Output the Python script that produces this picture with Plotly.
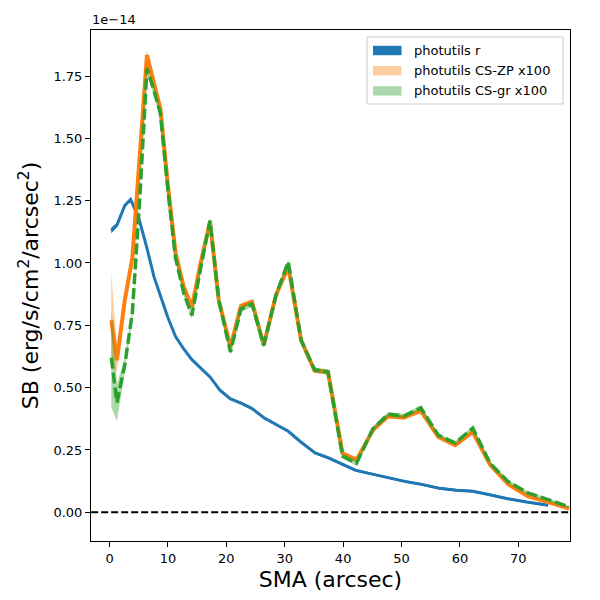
import plotly.graph_objects as go

# ---- data (surface brightness in units of 1e-14 erg/s/cm^2/arcsec^2) ----
sma_r = [0.3, 1.26, 2.6, 3.6, 5.0, 6.4, 7.6, 8.7, 10.0, 11.3, 12.7, 14.1, 15.6, 17.2,
         18.9, 20.7, 22.6, 24.4, 26.5, 28.7, 30.6, 32.7, 35.2, 37.5, 40.0, 42.2, 45.2,
         47.7, 50.5, 53.4, 56.5, 59.4, 62.2, 64.9, 68.0, 71.4, 75.1]
sb_r = [1.13, 1.152, 1.23, 1.255, 1.18, 1.06, 0.945, 0.865, 0.78, 0.705, 0.655, 0.612,
        0.58, 0.543, 0.49, 0.455, 0.437, 0.416, 0.378, 0.35, 0.325, 0.283, 0.238, 0.218,
        0.19, 0.168, 0.152, 0.139, 0.124, 0.112, 0.096, 0.088, 0.084, 0.071, 0.055,
        0.041, 0.028]
err_r = [0.012, 0.008] + [0.005] * 35

sma_cs = [0.3, 1.26, 2.6, 3.9, 5.2, 6.4, 7.5, 8.7, 10.0, 11.3, 12.7, 14.1, 15.6, 17.2,
          18.7, 20.7, 22.5, 24.4, 26.4, 28.5, 30.6, 32.8, 35.1, 37.4, 39.9, 42.3, 45.1,
          47.7, 50.4, 53.3, 56.3, 59.2, 62.2, 65.2, 68.3, 71.7, 75.1, 78.7]
sb_zp = [0.77, 0.61, 0.85, 1.02, 1.44, 1.834, 1.73, 1.62, 1.31, 1.04, 0.905, 0.824,
         1.0, 1.165, 0.851, 0.663, 0.827, 0.844, 0.67, 0.871, 0.985, 0.69, 0.568, 0.563,
         0.236, 0.21, 0.33, 0.385, 0.38, 0.407, 0.302, 0.269, 0.322, 0.189, 0.112,
         0.064, 0.041, 0.015]
err_zp = [0.19, 0.045, 0.03, 0.02, 0.02, 0.022, 0.02, 0.02, 0.016, 0.015, 0.014, 0.014,
          0.013, 0.013, 0.012, 0.012, 0.012, 0.012, 0.011, 0.011, 0.011, 0.01, 0.01,
          0.01, 0.01, 0.01, 0.009, 0.009, 0.009, 0.009, 0.008, 0.008, 0.008, 0.007,
          0.007, 0.006, 0.006, 0.005]
sb_gr = [0.62, 0.44, 0.59, 0.80, 1.27, 1.78, 1.70, 1.60, 1.29, 1.02, 0.88, 0.79,
         0.98, 1.17, 0.851, 0.643, 0.815, 0.835, 0.67, 0.871, 1.005, 0.69, 0.572, 0.563,
         0.225, 0.197, 0.335, 0.393, 0.386, 0.419, 0.309, 0.278, 0.338, 0.195, 0.122,
         0.077, 0.051, 0.021]
err_gr = [0.2, 0.075, 0.03, 0.02, 0.02, 0.022, 0.02, 0.02, 0.016, 0.015, 0.014, 0.014,
          0.013, 0.013, 0.012, 0.012, 0.012, 0.012, 0.011, 0.011, 0.011, 0.01, 0.01,
          0.01, 0.01, 0.01, 0.009, 0.009, 0.009, 0.009, 0.008, 0.008, 0.008, 0.007,
          0.007, 0.006, 0.006, 0.005]

series_names = ["photutils r", "photutils CS-ZP x100", "photutils CS-gr x100"]
x_ticks = [0, 10, 20, 30, 40, 50, 60, 70]
y_ticks = [0.0, 0.25, 0.5, 0.75, 1.0, 1.25, 1.5, 1.75]

BLUE, ORANGE, GREEN = "#1f77b4", "#ff7f0e", "#2ca02c"
FONT = "DejaVu Sans"

fig = go.Figure()


def band(x, y, e, fillcolor):
    up = [a + b for a, b in zip(y, e)]
    lo = [a - b for a, b in zip(y, e)]
    fig.add_trace(go.Scatter(x=list(x) + list(x)[::-1], y=up + lo[::-1], fill="toself",
                             fillcolor=fillcolor, line=dict(width=0), mode="lines",
                             hoverinfo="skip", showlegend=False))


# zero line
fig.add_trace(go.Scatter(x=[-10, 100], y=[0, 0], mode="lines",
                         line=dict(color="black", width=2, dash="7px,3px"),
                         showlegend=False, hoverinfo="skip"))

band(sma_r, sb_r, err_r, BLUE)
fig.add_trace(go.Scatter(x=sma_r, y=sb_r, mode="lines", line=dict(color=BLUE, width=3),
                         showlegend=False))
band(sma_cs, sb_zp, err_zp, "rgba(255,127,14,0.4)")
fig.add_trace(go.Scatter(x=sma_cs, y=sb_zp, mode="lines", line=dict(color=ORANGE, width=4),
                         showlegend=False))
band(sma_cs, sb_gr, err_gr, "rgba(44,160,44,0.4)")
fig.add_trace(go.Scatter(x=sma_cs, y=sb_gr, mode="lines",
                         line=dict(color=GREEN, width=3.5, dash="11px,4px"),
                         showlegend=False))

# plot area in window pixels (page body has an 8px offset)
OFF = 8
L, R, T, B = 91, 570, 30, 541


def px(xp):
    return (xp - L) / (R - L)


def py(yp):
    return (B - yp) / (B - T)


shapes = []
annotations = []
# legend frame
shapes.append(dict(type="rect", xref="paper", yref="paper", x0=px(367), x1=px(563),
                   y0=py(104), y1=py(37), line=dict(color="#cccccc", width=1),
                   fillcolor="rgba(255,255,255,0.8)", layer="above"))
leg_colors = [BLUE, "rgba(255,127,14,0.4)", "rgba(44,160,44,0.4)"]
for i, (name, col) in enumerate(zip(series_names, leg_colors)):
    yc = 50.5 + 20.2 * i
    shapes.append(dict(type="rect", xref="paper", yref="paper", x0=px(373), x1=px(401.5),
                       y0=py(yc + 4.7), y1=py(yc - 4.7), line=dict(width=0),
                       fillcolor=col, layer="above"))
    annotations.append(dict(text=name, xref="paper", yref="paper", x=px(412), y=py(yc),
                            xanchor="left", yanchor="middle", showarrow=False,
                            font=dict(family=FONT, size=13, color="black")))

annotations.append(dict(text="1e\u221214", xref="paper", yref="paper", x=px(90), y=py(20),
                        xanchor="left", yanchor="middle", showarrow=False,
                        font=dict(family=FONT, size=13, color="black")))

axis_common = dict(showline=True, linecolor="black", linewidth=1, mirror=True,
                   ticks="outside", ticklen=5, tickwidth=1, tickcolor="black",
                   showgrid=False, zeroline=False,
                   tickfont=dict(family=FONT, size=13, color="black"))

fig.update_layout(
    width=600 - OFF, height=600 - OFF,
    margin=dict(l=L - OFF, r=600 - R, t=T - OFF, b=600 - B),
    paper_bgcolor="white", plot_bgcolor="white",
    showlegend=False,
    xaxis=dict(range=[-3.18, 78.85], tickvals=x_ticks, ticktext=[str(v) for v in x_ticks],
               title=dict(text="SMA (arcsec)", font=dict(family=FONT, size=22, color="black"),
                          standoff=7),
               **axis_common),
    yaxis=dict(range=[-0.1152, 1.9345], tickvals=y_ticks,
               ticktext=["%.2f" % v for v in y_ticks],
               title=dict(text="SB (erg/s/cm<sup>2</sup>/arcsec<sup>2</sup>)",
                          font=dict(family=FONT, size=22, color="black"), standoff=8),
               **axis_common),
    shapes=shapes,
    annotations=annotations,
)

fig.write_html("out.html")
